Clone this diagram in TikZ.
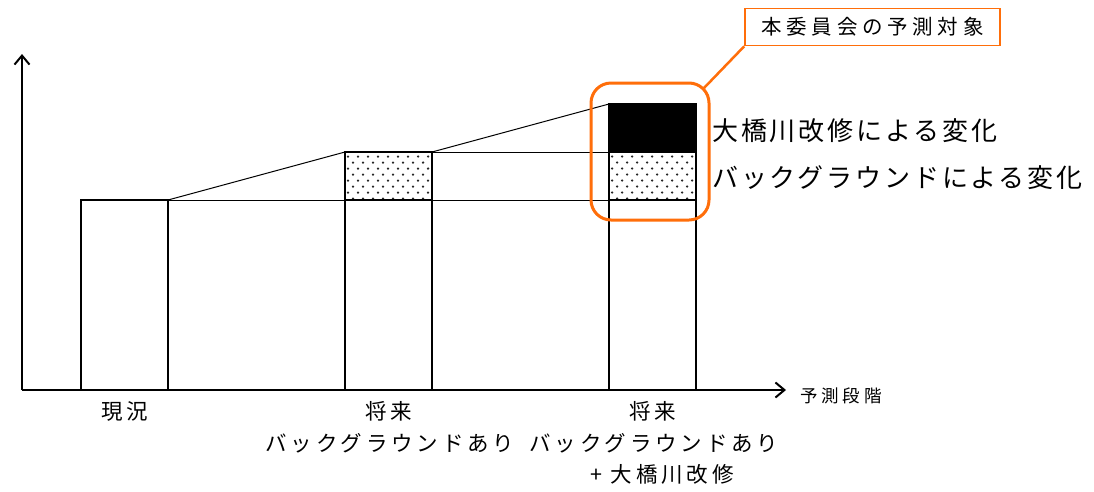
\documentclass[tikz,border=0pt]{standalone}
\usepackage{fontspec}
\setmainfont{Noto Sans CJK JP}
\usetikzlibrary{arrows.meta,calc}
\definecolor{orng}{RGB}{255,110,10}
\begin{document}
\begin{tikzpicture}[x=1pt,y=-1pt,
  bar/.style={draw=black,line width=1.8pt,inner sep=0pt,outer sep=0pt},
  thin/.style={line width=1pt},
  axis/.style={line width=2.6pt,-{Straight Barb[length=9pt,width=15pt,line width=2pt]}},
  lbl/.style={font=\fontsize{21.5}{24}\selectfont\addfontfeature{LetterSpace=18},inner sep=0pt,anchor=center},
  big/.style={font=\fontsize{26}{30}\selectfont\addfontfeature{LetterSpace=11},inner sep=0pt,anchor=west}]
\useasboundingbox (0,0) rectangle (1094,491);
\fill[white] (0,0) rectangle (1094,491);
% axes
\coordinate (o) at (22,390);
\coordinate (ytip) at (22,54);
\coordinate (xtip) at (786,390);
% bars
\node[bar,minimum width=87pt,minimum height=190pt] (b1) at (124.5,295) {};
\node[bar,minimum width=87pt,minimum height=238pt] (b2) at (388.5,271) {};
\node[bar,minimum width=87pt,minimum height=286pt] (b3) at (652.5,247) {};
% dotted regions
\foreach \xa in {345,609}{
  \begin{scope}
    \clip (\xa+1,153) rectangle (\xa+86,199.5);
    \foreach \r in {0,...,7}{
      \foreach \c in {0,...,9}{
        \pgfmathsetmacro{\px}{\xa+3+\c*10+mod(\r,2)*5}
        \pgfmathsetmacro{\py}{156.5+\r*6}
        \fill[black!85] (\px,\py) circle (1.25pt);
      }
    }
  \end{scope}
}
\fill[black] (609,104) rectangle (696,152);
% level lines
\draw[thin] (b1.north east) -- (b3.west |- 0,200);
\draw[thin] (b2.north east) -- (b3.west |- 0,152);
\draw[bar] (b2.west |- 0,200) -- (b2.east |- 0,200);
\draw[bar] (b3.west |- 0,152) -- (b3.east |- 0,152);
\draw[bar] (b3.west |- 0,200) -- (b3.east |- 0,200);
\draw[thin] (b1.north east) -- (b2.north west);
\draw[thin] (b2.north east) -- (b3.north west);
\node[bar,minimum width=87pt,minimum height=286pt] at (b3) {};
\node[bar,minimum width=87pt,minimum height=238pt] at (b2) {};
\draw[axis] (o) -- (ytip);
\draw[axis] (o) -- (xtip);
% orange callout
\node[draw=orng,line width=3pt,rounded corners=20pt,minimum width=118pt,minimum height=137pt] (tgt) at (650,151.5) {};
\coordinate (tc) at ($(tgt.north east)+(-6.5,6.5)$);
\node[draw=orng,line width=1.6pt,fill=white,minimum width=255pt,minimum height=37pt,inner sep=0pt,font=\fontsize{20.5}{24}\selectfont\addfontfeature{LetterSpace=23}] (lab) at (872.5,27) {本委員会の予測対象};
\draw[orng,line width=2.5pt] (lab.south west) -- (tc);
% legends
\node[big] (l1) at (712,131) {大橋川改修による変化};
\node[big] (l2) at (712,178) {バックグラウンドによる変化};
% axis labels
\node[lbl] (t1) at (125,411) {現況};
\node[lbl] (t2) at (389,411) {将来};
\node[lbl] (t3) at (390,443) {バックグラウンドあり};
\node[lbl] (t4) at (653,411) {将来};
\node[lbl] (t5) at (654,443) {バックグラウンドあり};
\node[lbl] (t6) at (662,474) {+ 大橋川改修};
\node[font=\fontsize{17.5}{20}\selectfont\addfontfeature{LetterSpace=22},inner sep=0pt,anchor=west] (xl) at (800,396) {予測段階};
\end{tikzpicture}
\end{document}
